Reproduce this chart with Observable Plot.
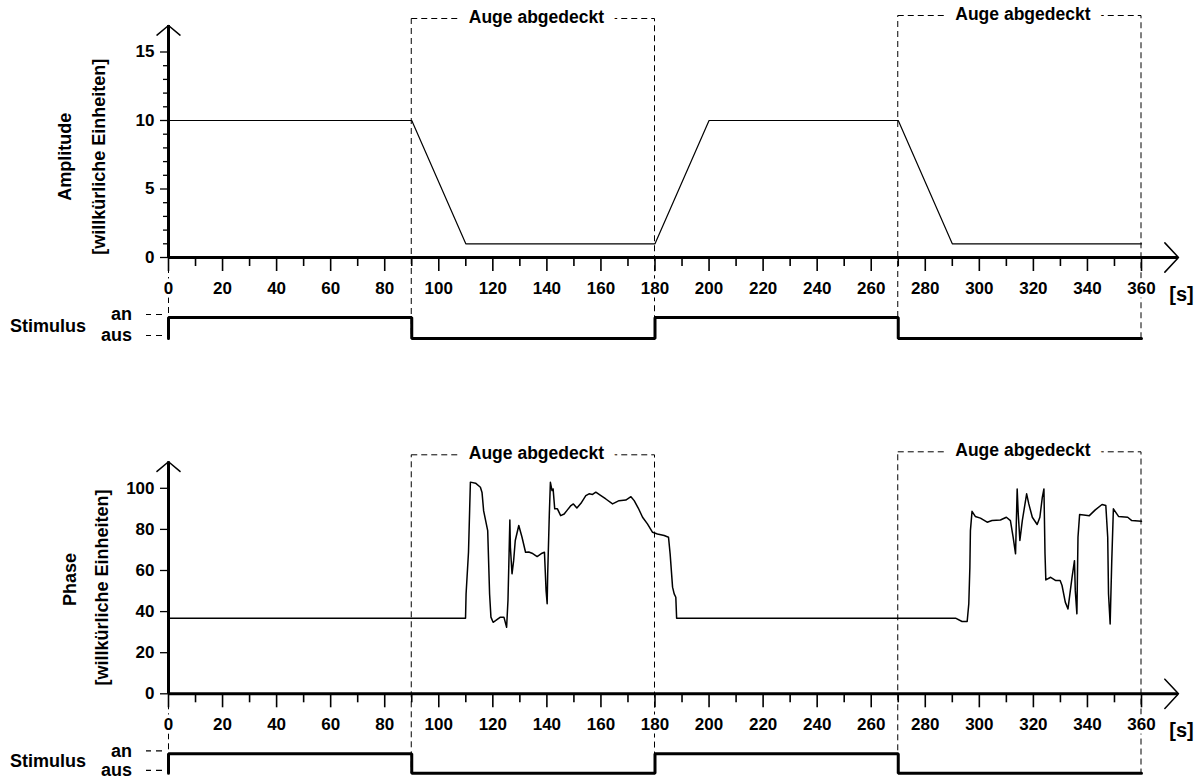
<!DOCTYPE html>
<html>
<head>
<meta charset="utf-8">
<script src="https://cdn.jsdelivr.net/npm/d3@7"></script>
<script src="https://cdn.jsdelivr.net/npm/@observablehq/plot@0.6"></script>
<style>
  body { margin: 0; background: #fff; }
  #chart { width: 1203px; height: 780px; overflow: hidden; background: #fff; }
  #chart svg { display: block; overflow: visible; }
</style>
</head>
<body>
<div id="chart"></div>
<script>
// ---------------- data ----------------
const timeMajorTicks = [0, 20, 40, 60, 80, 100, 120, 140, 160, 180, 200, 220, 240, 260, 280, 300, 320, 340, 360];
const timeMinorTicks = [10, 30, 50, 70, 90, 110, 130, 150, 170, 190, 210, 230, 250, 270, 290, 310, 330, 350];
const ampTicks = [0, 5, 10, 15];
const ampMinorTicks = [1, 2, 3, 4, 6, 7, 8, 9, 11, 12, 13, 14];
const phaseTicks = [0, 20, 40, 60, 80, 100];

const ampTime  = [0, 90, 110, 180, 200, 270, 290, 360];
const ampValue = [10, 10, 1, 1, 10, 10, 1, 1];

const phaseTime = [
  0, 109.9, 110.1, 111.0, 111.7, 113.6, 115.4, 116.0, 116.6, 118.1, 118.8, 119.3, 120.1, 121.0, 122.8, 124.1,
  125.1, 125.6, 126.3, 126.5, 127.1, 127.7, 128.3, 129.6, 130.8, 132.1, 133.3, 134.5, 136.4, 138.2, 139.1,
  139.7, 140.1, 140.3, 140.9, 141.3, 141.9, 142.3, 142.9, 143.9, 145.1, 146.4, 147.6, 148.9, 149.8, 151.1,
  152.6, 154.4, 155.6, 156.9, 158.1, 160.0, 161.8, 164.3, 166.7, 169.2, 171.1, 172.3, 173.8, 175.4, 177.2,
  179.1, 180.9, 183.4, 185.0, 185.6, 186.5, 187.1, 187.7, 188.0,
  291.2, 293.6, 295.5, 296.1, 296.5, 296.7, 297.3, 298.5, 300.4, 302.9, 304.7, 307.8, 310.0, 311.5, 312.5,
  313.4, 314.0, 314.4, 315.0, 315.9, 317.5, 318.3, 319.6, 321.4, 322.4, 323.3, 323.9, 324.3, 324.6, 326.4,
  328.3, 329.9, 330.6, 331.8, 332.8, 334.3, 335.2, 335.5, 336.1, 336.5, 337.1, 338.6, 340.7, 342.9, 345.4,
  346.8, 347.5, 347.8, 348.4, 349.0, 349.6, 351.5, 354.9, 356.4, 360
];
const phaseValue = [
  36.8, 36.8, 48.6, 69, 103, 102.5, 100.5, 98, 89, 79.4, 48.6, 37.3, 34.8, 35.6, 37.3, 37.3,
  32.4, 45.4, 84.6, 71.3, 58.4, 64.8, 74.6, 81.9, 76.2, 68.9, 69, 68.4, 66.8, 68.4, 68.9,
  50.2, 43.8, 58.4, 87.5, 102.9, 98.9, 99.7, 90, 90, 86.7, 87.5, 89.5, 91.6, 92.4, 90.4,
  92.7, 96.4, 97.3, 97, 98.1, 96.4, 94.8, 92.4, 94, 94.3, 95.9, 94, 90.4, 85.9, 82.7,
  78.6, 77.8, 77, 76.2, 68.1, 51.9, 48.6, 47, 36.8,
  36.8, 35.2, 35.2, 43.8, 61.6, 79.4, 88.8, 86.3, 85.5, 83.5, 84.3, 84.6, 85.9, 84.3, 76.2,
  68.1, 99.7, 87.5, 74.6, 84.3, 97.3, 92.4, 85.9, 82.4, 85.9, 95.6, 99.7, 68.1, 55.4, 56.7,
  55.1, 55.1, 52.7, 44.6, 41.3, 56.7, 64.8, 50.2, 38.9, 76.2, 87.2, 87.0, 86.7, 89.5, 92.1,
  91.6, 76.2, 48.6, 34, 64.8, 90, 86.3, 85.9, 84.3, 84
];

const stimTime  = [0, 90, 180, 270, 360];
const stimState = ["an", "aus", "an", "aus", "aus"];

const coverStart = [90, 270];
const coverEnd   = [180, 360];
const coverLabel = "Auge abgedeckt";

const ampTitle   = ["Amplitude", "[willkürliche Einheiten]"];
const phaseTitle = ["Phase", "[willkürliche Einheiten]"];
const stimLabel  = "Stimulus";
const unitLabel  = "[s]";

// ---------------- layout ----------------
const W = 1203, ML = 168, MR = 62;
const FRAME_H = 205.5;          // pixel height of the value range
const STIM_HIGH = 60;           // px below the time axis
const COVER_TOP = [238.5, 241.5];      // px above the time axis
const Y_ARROW = 232, X_ARROW = 37;     // arrow lengths beyond the frame
const TICK_FONT = "'Liberation Sans', Arial, sans-serif";
const SANS = "'Liberation Sans', Arial, sans-serif";
const TICK_SIZE = 17;
const DASH = "6,4";

function panel(cfg) {
  const {time, value, yMax, yTicks, yMinor, title, titleDx, titleDy, height, marginTop, marginBottom, lineWidth, stimLow} = cfg;
  const xMax = timeMajorTicks[timeMajorTicks.length - 1];
  const up = px => px * yMax / FRAME_H;
  const right = px => px * xMax / (W - ML - MR);
  const stimY = s => s === "an" ? -up(STIM_HIGH) : -up(stimLow);
  const series = time.map((t, i) => ({t, v: value[i]}));
  const stim = [{t: stimTime[0], y: stimY("aus")}].concat(stimTime.map((t, i) => ({t, y: stimY(stimState[i])})));
  const covers = coverStart.map((s, i) => ({x1: s, x2: coverEnd[i], top: up(COVER_TOP[i]), bottom: stimY("aus")}));
  const xEnd = xMax + right(X_ARROW);
  const yEnd = up(Y_ARROW);
  const origin = [{x: 0, y: 0}];

  const marks = [
    // covered-eye intervals (dashed boxes)
    Plot.rect(covers, {x1: "x1", x2: "x2", y1: "bottom", y2: "top", fill: "none", stroke: "black", strokeWidth: 1, strokeDasharray: DASH}),
    Plot.ruleX([stimTime[0]], {y1: 0, y2: stimY("an"), stroke: "black", strokeWidth: 1, strokeDasharray: DASH}),
    Plot.text(covers, {x: d => (d.x1 + d.x2) / 2, y: "top", text: () => coverLabel, dx: 3, dy: -2,
      fontFamily: SANS, fontSize: 17.5, fontWeight: "bold", fill: "black",
      stroke: "white", strokeWidth: 22, strokeLinejoin: "round"}),
    // data
    Plot.line(series, {x: "t", y: "v", stroke: "black", strokeWidth: lineWidth}),
    // stimulus trace
    Plot.line(stim, {x: "t", y: "y", curve: "step-after", stroke: "black", strokeWidth: 3, strokeLinejoin: "miter"}),
    // axes lines + arrows
    Plot.ruleX(origin, {x: "x", y1: 0, y2: yEnd, stroke: "black", strokeWidth: 3}),
    Plot.arrow(origin, {x1: "x", y1: "y", x2: "x", y2: () => yEnd, stroke: "black", strokeWidth: 1.5, headLength: 15, headAngle: 100}),
    Plot.ruleY(origin, {y: "y", x1: 0, x2: xEnd, stroke: "black", strokeWidth: 3}),
    Plot.arrow(origin, {x1: "x", y1: "y", x2: () => xEnd, y2: "y", stroke: "black", strokeWidth: 1.5, headLength: 20, headAngle: 94}),
    // y axis ticks
    Plot.axisY({ticks: yTicks, anchor: "left", tickSize: 8, tickPadding: 6, label: null, strokeWidth: 1.3,
      fontFamily: TICK_FONT, fontSize: TICK_SIZE, fontWeight: "bold", fill: "black", stroke: "black"}),
    yMinor ? Plot.axisY({ticks: yMinor, anchor: "left", tickSize: 5, label: null, strokeWidth: 1.3, fill: "none", stroke: "black"}) : null,
    // x axis ticks
    Plot.axisX({ticks: timeMajorTicks, anchor: "bottom", tickSize: 14, tickPadding: 10.5, label: null, strokeWidth: 1.6,
      fontFamily: TICK_FONT, fontSize: TICK_SIZE, fontWeight: "bold", fill: "black", stroke: "black",
      textStroke: "white", textStrokeWidth: 7}),
    Plot.axisX({ticks: timeMinorTicks, anchor: "bottom", tickSize: 9, label: null, strokeWidth: 1.6, fill: "none", stroke: "black"}),
    // stimulus levels
    Plot.axisY({ticks: [stimY("an"), stimY("aus")], anchor: "left", tickSize: 22.5, tickPadding: 14, label: null,
      tickFormat: d => d === stimY("an") ? "an" : "aus", strokeWidth: 1.2, strokeDasharray: "0 6 6 5 5 80",
      dy: -3, fontFamily: SANS, fontSize: 18, fontWeight: "bold", fill: "black", stroke: "black"}),
    Plot.text([stimLabel], {x: () => stimTime[0], y: () => (stimY("an") + stimY("aus")) / 2, text: d => d,
      dx: -120.5, dy: -2, fontFamily: SANS, fontSize: 18, fontWeight: "bold", fill: "black"}),
    // unit label
    Plot.text([unitLabel], {x: () => xMax, y: () => 0, text: d => d, dx: 40, dy: 37,
      fontFamily: SANS, fontSize: 20, fontWeight: "bold", fill: "black"}),
    // y titles
    Plot.text([title[0]], {frameAnchor: "left", text: d => d, rotate: -90, textAnchor: "middle", dx: titleDx[0], dy: titleDy[0],
      fontFamily: SANS, fontSize: 18, fontWeight: "bold", fill: "black"}),
    Plot.text([title[1]], {frameAnchor: "left", text: d => d, rotate: -90, textAnchor: "middle", dx: titleDx[1], dy: titleDy[1],
      fontFamily: SANS, fontSize: 18, fontWeight: "bold", fill: "black"})
  ].filter(Boolean);

  return Plot.plot({
    width: W, height, marginLeft: ML, marginRight: MR, marginTop, marginBottom,
    x: {domain: [0, xMax]},
    y: {domain: [0, yMax]},
    style: {fontFamily: TICK_FONT, fontWeight: "bold", fontSize: TICK_SIZE + "px", color: "black", background: "white", overflow: "visible"},
    marks
  });
}

const chart = document.getElementById("chart");
chart.append(panel({
  time: ampTime, value: ampValue, yMax: 15, yTicks: ampTicks, yMinor: ampMinorTicks,
  title: ampTitle, titleDx: [-103, -69.5], titleDy: [2, 2],
  height: 436, marginTop: 51.5, marginBottom: 179, lineWidth: 1.2, stimLow: 81
}));
chart.append(panel({
  time: phaseTime, value: phaseValue, yMax: 100, yTicks: phaseTicks, yMinor: null,
  title: phaseTitle, titleDx: [-98, -66.5], titleDy: [-11.5, -3.5],
  height: 344, marginTop: 51.8, marginBottom: 86.7, lineWidth: 1.5, stimLow: 79.5
}));
</script>
</body>
</html>
